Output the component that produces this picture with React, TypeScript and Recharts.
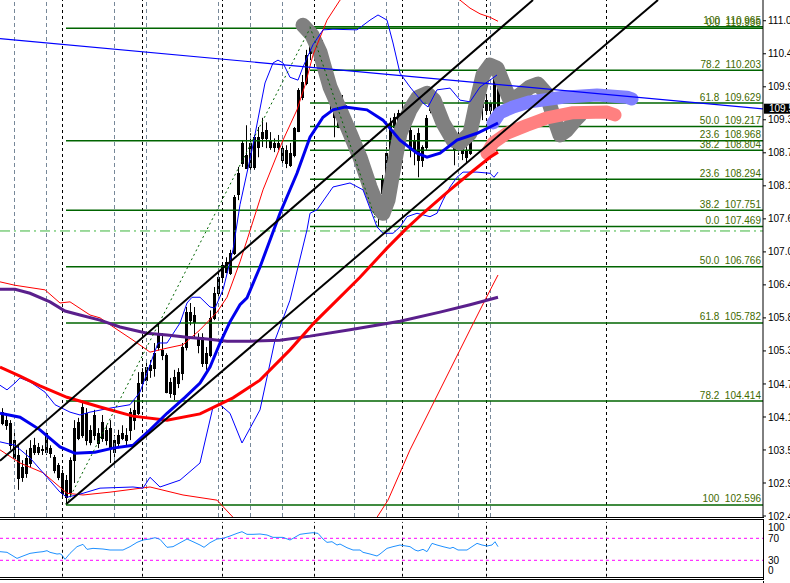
import React from 'react';
import { ComposedChart, Line, Bar, XAxis, YAxis, ReferenceDot } from 'recharts';

const X_MAX = 190.75;
const Y_MIN = 102.385;
const Y_MAX = 111.432;
const FONT = '"Liberation Sans", Arial, sans-serif';

const PRICE_TICKS = [102.402, 102.98, 103.558, 104.135, 104.713, 105.291, 105.869, 106.447, 107.024, 107.602, 108.18, 108.758, 109.336, 109.913, 110.491, 111.069];
const PRICE_TICK_LABELS = ['102.4', '102.9', '103.5', '104.1', '104.7', '105.3', '105.8', '106.4', '107.0', '107.6', '108.1', '108.7', '109.3', '109.9', '110.4', '111.0'];
const LAST_PRICE = 109.53;
const LAST_PRICE_LABEL = '109.5';

// open, high, low, close
const CANDLE_OHLC = [
  [104.22, 104.29, 103.99, 104.03], [103.99, 104.17, 103.91, 104.08], [104.03, 104.08, 103.56, 103.64], [103.73, 103.91, 103.35, 103.42],
  [103.47, 103.64, 102.86, 103.07], [103.08, 103.38, 103.0, 103.26], [103.42, 103.56, 103.07, 103.15], [103.33, 103.73, 103.26, 103.59],
  [103.52, 103.77, 103.47, 103.64], [103.52, 103.68, 103.47, 103.61], [103.57, 103.64, 103.47, 103.56], [103.85, 103.89, 103.47, 103.52],
  [103.59, 103.64, 103.42, 103.5], [103.43, 103.47, 103.15, 103.21], [103.08, 103.33, 103.03, 103.29], [103.15, 103.21, 102.73, 102.8],
  [103.03, 103.12, 102.6, 102.73], [102.82, 103.43, 102.73, 103.38], [103.38, 104.08, 102.98, 103.94], [103.77, 104.12, 103.73, 104.05],
  [103.82, 104.43, 103.77, 104.31], [104.2, 104.29, 103.64, 103.73], [103.7, 103.99, 103.64, 103.91], [104.17, 104.26, 103.73, 103.82],
  [103.68, 103.94, 103.59, 103.85], [104.05, 104.17, 103.7, 103.77], [103.73, 103.99, 103.64, 103.91], [103.94, 104.08, 103.33, 103.61],
  [103.52, 103.82, 103.33, 103.73], [103.68, 103.91, 103.59, 103.82], [103.85, 103.99, 103.73, 103.77], [103.82, 103.94, 103.64, 103.73],
  [103.91, 104.29, 103.73, 104.22], [104.08, 104.43, 103.91, 104.26], [104.2, 104.92, 104.17, 104.73], [104.73, 104.99, 104.57, 104.92],
  [104.78, 105.1, 104.69, 105.01], [104.96, 105.13, 104.82, 105.04], [104.99, 105.43, 104.84, 105.25], [105.36, 105.78, 105.3, 105.6],
  [105.3, 105.6, 105.13, 105.22], [105.22, 105.25, 104.55, 104.57], [104.75, 104.82, 104.47, 104.55], [104.55, 104.96, 104.43, 104.84],
  [104.73, 104.99, 104.64, 104.92], [104.9, 105.43, 104.78, 105.36], [105.36, 106.06, 105.3, 105.97], [105.83, 106.13, 105.74, 105.97],
  [105.92, 106.06, 105.53, 105.8], [105.53, 105.6, 105.25, 105.39], [105.53, 105.6, 105.01, 105.08], [105.08, 105.36, 104.96, 105.25],
  [105.22, 106.0, 105.18, 105.86], [105.86, 106.41, 105.83, 106.3], [106.3, 106.67, 106.25, 106.58], [106.58, 106.84, 106.53, 106.79],
  [106.84, 106.93, 106.65, 106.67], [106.65, 107.06, 106.62, 107.0], [107.0, 108.02, 106.97, 107.98], [108.05, 108.51, 107.93, 108.41],
  [108.58, 108.98, 108.51, 108.93], [108.72, 109.24, 108.49, 108.49], [108.51, 109.1, 108.46, 108.93], [108.51, 109.07, 108.46, 109.03],
  [108.86, 109.21, 108.68, 109.03], [109.12, 109.37, 108.86, 109.01], [109.15, 109.29, 108.84, 109.01], [108.98, 109.12, 108.81, 108.86],
  [108.86, 109.01, 108.77, 108.93], [108.93, 109.07, 108.81, 108.86], [108.84, 108.98, 108.58, 108.63], [108.81, 108.89, 108.49, 108.58],
  [108.54, 108.93, 108.51, 108.75], [108.72, 109.21, 108.68, 109.19], [109.15, 109.89, 109.12, 109.86], [109.73, 110.12, 109.68, 110.0],
  [109.98, 110.56, 109.94, 110.47], [110.5, 110.96, 110.38, 110.73], [110.68, 110.91, 110.5, 110.59], [110.68, 110.82, 110.26, 110.38],
  [110.61, 110.73, 110.17, 110.21], [110.21, 110.38, 109.82, 109.94], [109.89, 110.03, 109.51, 109.73], [109.72, 109.8, 109.03, 109.38],
  [109.21, 109.73, 109.19, 109.68], [109.68, 109.77, 109.24, 109.38], [109.51, 109.59, 109.15, 109.21], [109.21, 109.3, 108.89, 108.95],
  [108.98, 109.07, 108.68, 108.75], [108.68, 108.89, 108.63, 108.81], [108.63, 108.81, 108.16, 108.41], [108.16, 108.37, 107.98, 108.05],
  [108.14, 108.28, 107.81, 107.88], [108.07, 108.19, 107.67, 107.81], [107.93, 108.02, 107.47, 107.76], [108.05, 108.37, 107.93, 108.28],
  [108.05, 108.86, 107.98, 108.75], [108.75, 109.37, 108.68, 109.28], [109.21, 109.45, 109.07, 109.38], [109.28, 109.51, 109.15, 109.45],
  [109.45, 109.63, 109.24, 109.33], [109.33, 109.42, 109.1, 109.15], [109.15, 109.33, 108.68, 108.81], [108.81, 109.07, 108.54, 108.98],
  [109.1, 109.19, 108.33, 108.63], [108.63, 108.89, 108.51, 108.86], [108.86, 109.42, 108.81, 109.37], [109.63, 109.8, 109.45, 109.51],
  [109.56, 109.68, 109.38, 109.45], [109.45, 109.54, 109.24, 109.33], [109.33, 109.42, 109.12, 109.21], [109.28, 109.37, 109.03, 109.1],
  [109.15, 109.24, 108.89, 108.98], [108.81, 109.07, 108.54, 109.03], [109.03, 109.15, 108.72, 108.86], [108.93, 109.01, 108.63, 108.75],
  [108.81, 108.89, 108.58, 108.68], [108.75, 109.24, 108.72, 109.21], [109.33, 109.98, 109.3, 109.91], [109.68, 110.03, 109.59, 109.91],
  [109.8, 109.94, 109.33, 109.56], [109.51, 109.77, 109.42, 109.68], [109.51, 109.68, 109.42, 109.63], [109.51, 110.35, 109.47, 110.33],
  [110.26, 110.35, 109.36, 109.51],
];

// [bar position, price]
const RED_MA = [[0, 105.01], [5, 104.85], [10, 104.68], [16.75, 104.48], [25, 104.31], [33.25, 104.15], [41.75, 104.08], [50, 104.19], [58.25, 104.47], [65, 104.78], [72.5, 105.31], [78.75, 105.8], [84.25, 106.18], [90, 106.58], [96.75, 107.09], [101.25, 107.41], [105.75, 107.7], [112.5, 108.11], [117.5, 108.4], [122.5, 108.68], [124.5, 108.77]];
const PURPLE_MA = [[0, 106.37], [3.75, 106.37], [7.5, 106.3], [12.5, 106.15], [16.25, 105.99], [20, 105.92], [25, 105.83], [30, 105.71], [36.75, 105.6], [41.75, 105.57], [46.75, 105.53], [51.75, 105.5], [56.75, 105.46], [62.5, 105.46], [70, 105.48], [77.5, 105.55], [87.5, 105.66], [100, 105.81], [110, 105.97], [117.5, 106.1], [124.5, 106.23]];
const BLUE_MA = [[0, 104.2], [5, 104.13], [10, 103.91], [15, 103.61], [18.75, 103.5], [23.75, 103.52], [28.25, 103.59], [33.25, 103.64], [37.5, 103.91], [41.75, 104.2], [46.25, 104.48], [50, 104.73], [52.5, 105.01], [55, 105.43], [57.5, 105.8], [60, 106.1], [61.75, 106.22], [65, 106.76], [70, 107.7], [74.25, 108.4], [77.5, 109.03], [80.75, 109.38], [83.25, 109.51], [86.25, 109.56], [91.75, 109.51], [95.75, 109.33], [100, 108.98], [104.25, 108.75], [106.75, 108.68], [110, 108.75], [114.25, 108.98], [119.25, 109.1], [122.5, 109.21], [124.5, 109.28]];
const BB_UPPER = [[0, 104.69], [1.75, 104.61], [3.75, 104.73], [5, 104.82], [7.5, 104.75], [11.25, 104.57], [13.75, 104.35], [17.5, 104.22], [20, 104.17], [22.5, 104.22], [27.5, 104.29], [32.5, 104.35], [35, 104.57], [37.5, 105.05], [39.5, 105.43], [41.75, 105.43], [45, 105.78], [46.75, 106.13], [48, 106.23], [50, 106.23], [52.5, 106.06], [53.75, 106.04], [55.75, 106.36], [58.25, 107.06], [60, 107.85], [63, 108.81], [66.25, 109.98], [68.25, 110.33], [69.5, 110.38], [70.75, 110.33], [72.5, 110.08], [74.5, 110.03], [75.75, 110.26], [78.25, 110.65], [80.75, 110.91], [83.25, 110.92], [89.25, 110.91], [92.5, 111.08], [94.5, 111.17], [96.75, 111.08], [98.25, 110.68], [100, 110.15], [102.5, 109.91], [105.75, 109.63], [107, 109.56], [109.25, 109.86], [112.5, 109.89], [115, 109.68], [117.5, 109.65], [120, 109.91], [122.5, 110.03], [124.25, 110.12]];
const BB_LOWER = [[0, 103.7], [3.75, 103.64], [7.5, 103.42], [11.25, 103.12], [15, 102.82], [16.75, 102.73], [20.75, 102.8], [25, 102.89], [33.25, 102.91], [35.75, 102.89], [37.5, 103.08], [40, 102.91], [45, 103.03], [50, 103.33], [53.25, 104.31], [55, 104.35], [57.5, 104.2], [60.5, 103.68], [65, 104.26], [68.75, 105.48], [72.5, 106.18], [76.75, 107.41], [77.5, 107.7], [79.25, 107.76], [83.25, 108.16], [87.5, 108.23], [90.75, 108.11], [94.25, 107.46], [95.75, 107.35], [98.25, 107.35], [100, 107.46], [101.75, 107.64], [104.25, 107.7], [107.5, 107.64], [109.25, 107.7], [110.75, 107.93], [112.5, 108.16], [114.25, 108.33], [115.75, 108.42], [119.25, 108.42], [122.5, 108.4], [123.5, 108.33], [124.5, 108.42]];
const ENV_UPPER = [[0, 106.5], [3.75, 106.44], [11.25, 106.36], [15, 106.13], [17.5, 106.15], [22.5, 105.92], [25, 105.87], [28.75, 105.69], [33.25, 105.48], [37.5, 105.27], [41.75, 105.34], [45.75, 105.4], [50, 105.66], [54.25, 105.97], [56.75, 106.23], [60, 106.85], [61.75, 107.23], [65.75, 108.11], [70.75, 108.98], [74.25, 109.51], [76.25, 109.94], [78.25, 110.47], [81.75, 111.08], [85, 111.43], [90, 111.75], [100, 111.87], [110, 111.64], [115, 111.43], [117.5, 111.29], [120, 111.19], [122.5, 111.13], [124.5, 111.06]];
const ENV_LOWER = [[0, 103.56], [5, 103.33], [10.75, 103.16], [16.75, 102.8], [20.75, 102.77], [27.5, 102.82], [37.5, 102.91], [45.75, 102.77], [54.25, 102.68], [58.25, 102.38], [65, 101.98], [75, 101.72], [85, 101.84], [94.25, 102.38], [97, 102.68], [102.5, 103.56], [107.5, 104.26], [112.5, 104.96], [117.5, 105.66], [121.25, 106.18], [124.5, 106.62]];

const TREND_BLUE = [[0, 110.755], [190.75, 109.526]];
const CHANNEL_UPPER = [[0, 103.37], [133.25, 111.432]];
const CHANNEL_LOWER = [[16.5, 102.61], [164.5, 111.432]];
const FIB_A_TREND = [[16.5, 102.596], [77.5, 110.936]];
const FIB_B_TREND = [[77.5, 110.965], [94.5, 107.469]];
const DASHDOT_LEVEL = 107.39;

const GREY_PATH = [[75.75, 110.99], [78, 110.82], [80, 110.52], [82.5, 109.91], [85, 109.51], [87.5, 109.1], [90, 108.68], [92.5, 108.16], [94.5, 107.81], [95.75, 107.7], [97, 107.93], [98, 108.33], [100, 109.1], [102.5, 109.51], [104.5, 109.73], [106.75, 109.8], [108.5, 109.68], [110.75, 109.28], [113.25, 108.98], [115, 108.93], [117.5, 109.1], [119.25, 109.68], [120.75, 110.12], [122.5, 110.29], [124.25, 110.24], [125.75, 109.98], [127.5, 109.68], [130, 109.77], [132.5, 109.91], [134.5, 109.96], [136.5, 109.8], [138.25, 109.42], [140, 109.07], [141.75, 109.16], [143.75, 109.33], [145, 109.42]];
const BLUE_HL = [[123.25, 109.28], [125, 109.46], [128.25, 109.56], [132.5, 109.65], [140.75, 109.73], [149.25, 109.77], [156.75, 109.73], [158, 109.7]];
const PINK_HL = [[121.75, 108.75], [123.25, 108.93], [126.75, 109.1], [131.75, 109.24], [136.75, 109.37], [143.25, 109.46], [151.75, 109.47], [153.75, 109.42]];

const FIB_A_START = 16.5;
const FIB_B_START = 77.5;
const FIB_A_LEVELS: [string, number][] = [['100', 102.596], ['78.2', 104.414], ['61.8', 105.782], ['50.0', 106.766], ['38.2', 107.751], ['23.6', 108.968], ['0.0', 110.936]];
const FIB_B_LEVELS: [string, number][] = [['0.0', 107.469], ['23.6', 108.294], ['38.2', 108.804], ['50.0', 109.217], ['61.8', 109.629], ['78.2', 110.203], ['100', 110.965]];

// bar index of grid / period separators
const GRID_BARS = [3, 11, 28, 36, 54, 62, 70, 88, 96, 114, 122];
const SEPARATOR_BARS = [15, 35, 55, 78, 100, 121, 151];

const RSI = [[0, 45.7], [1.75, 44.5], [4.25, 33.5], [5.75, 37.8], [7.5, 42.6], [9.25, 44.5], [10.75, 45.7], [11.75, 47.5], [12.5, 44.5], [14.25, 41.4], [15, 42.0], [15.5, 39.6], [16.25, 31.7], [17.5, 42.6], [19.25, 54.8], [20.75, 59.0], [21.75, 49.9], [23.25, 51.7], [25.75, 50.5], [27.5, 48.7], [29.25, 48.7], [30.75, 48.7], [32.5, 54.8], [34.25, 62.6], [35.75, 66.9], [37.5, 68.7], [38.75, 71.1], [40, 68.1], [41.75, 53.6], [43.25, 54.8], [45.5, 63.8], [46.75, 68.7], [48.25, 63.8], [50, 57.8], [51, 53.6], [52.5, 62.0], [54.25, 68.7], [55.75, 69.9], [57.5, 74.1], [59.25, 79.0], [60.5, 82.0], [61.75, 77.2], [63.25, 77.2], [65, 77.8], [66.75, 76.0], [68.25, 71.7], [70.75, 71.7], [72.5, 66.9], [73.25, 69.9], [75, 77.2], [76.75, 79.0], [78.25, 80.2], [79.5, 79.0], [80.75, 68.7], [81.75, 62.6], [83, 63.8], [84.25, 57.8], [85, 59.6], [86.75, 52.9], [88.25, 48.7], [90, 48.7], [90.75, 44.5], [92.5, 41.4], [94.25, 37.8], [95, 41.4], [96.75, 51.7], [98.25, 54.8], [100, 57.8], [102.5, 54.8], [103.75, 48.7], [104.5, 46.9], [105.75, 49.9], [106.75, 45.7], [108, 60.8], [109.25, 57.8], [110.75, 54.8], [112.5, 51.7], [113.25, 53.6], [114.5, 48.7], [116.75, 48.7], [118, 54.8], [119.25, 60.8], [120.5, 57.8], [121.75, 56.0], [123, 57.8], [123.75, 63.8], [124.5, 54.8]];
const RSI_LEVELS = [70, 30];
const RSI_TICKS = [0, 30, 70, 100];

const toPts = (a: number[][]) => a.map(([x, y]) => ({ x, y }));
const candleData = CANDLE_OHLC.map(([o, h, l, c], i) => ({ x: i + 0.5, o, h, l, c, range: [l, h] }));
const barX = (i: number) => i + 0.5 + 0.125;

const Candle = (props: any) => {
  const { x, y, width, height, payload } = props;
  if (!payload || x == null) return null;
  const top = Math.min(y, y + height);
  const hgt = Math.abs(height);
  const k = payload.h > payload.l ? hgt / (payload.h - payload.l) : 0;
  const cx = Math.round(x + width / 2) + 0.5;
  const yo = top + (payload.h - payload.o) * k;
  const yc = top + (payload.h - payload.c) * k;
  const bTop = Math.round(Math.min(yo, yc)) + 0.5;
  const bH = Math.max(Math.round(Math.abs(yc - yo)), 1);
  const bull = payload.c >= payload.o;
  return (
    <g>
      <line x1={cx} x2={cx} y1={top} y2={top + hgt} stroke="#000" strokeWidth={1} />
      <rect x={cx - 1} y={bTop} width={2} height={bH} fill={bull ? 'none' : '#000'} stroke="#000" strokeWidth={1} />
    </g>
  );
};

function mkLine(key: string, data: any[], stroke: string, width: number, extra: any = {}) {
  return (
    <Line key={key} data={data} dataKey="y" type="linear" stroke={stroke} strokeWidth={width}
      dot={false} activeDot={false} isAnimationActive={false} legendType="none" {...extra} />
  );
}

const vLine = (u: number, lo: number, hi: number) => [{ x: u, y: lo }, { x: u, y: hi }];

const fibLabel = (lvl: string, price: number) => (p: any) => (
  <text x={p.cx - 2} y={p.cy - 2.5} textAnchor="end" fontSize={10} fontFamily={FONT} fill="#3f6a00">
    {`${lvl}\u00a0\u00a0${price.toFixed(3)}`}
  </text>
);

const RsiTick = (p: any) => {
  const v = p.payload.value;
  const dy = v === 100 ? 6 : v === 0 ? -6 : 0;
  return (
    <text x={p.x} y={p.y + dy} dy="0.35em" fontSize={10} fontFamily={FONT} fill="#000" textAnchor="start">{v}</text>
  );
};

const hLine = (left: number, top: number, width: number, height: number) => (
  <div style={{ position: 'absolute', left, top, width, height, background: '#000' }} />
);

export default function App() {
  return (
    <div style={{ position: 'absolute', left: 0, top: 0, width: 790, height: 583, background: '#fff', overflow: 'hidden' }}>
      <div style={{ position: 'absolute', left: 0, top: 0 }}>
        <ComposedChart width={790} height={530} data={candleData} margin={{ top: 0, right: 0, bottom: 13, left: 0 }}>
          <XAxis dataKey="x" type="number" domain={[0, X_MAX]} hide allowDataOverflow />
          <YAxis orientation="right" domain={[Y_MIN, Y_MAX]} allowDataOverflow ticks={PRICE_TICKS} interval={0}
            width={27} tickSize={3}
            tickFormatter={(v: number) => PRICE_TICK_LABELS[PRICE_TICKS.indexOf(v)] ?? ''}
            tick={{ fontSize: 10, fill: '#000', fontFamily: FONT }} axisLine={{ stroke: '#000' }} tickLine={{ stroke: '#000' }} />
          {GRID_BARS.map((b) => mkLine(`g${b}`, vLine(barX(b), Y_MIN, Y_MAX), '#778899', 1, { strokeDasharray: '4 3' }))}
          {SEPARATOR_BARS.map((b) => mkLine(`s${b}`, vLine(barX(b), Y_MIN, Y_MAX), '#000', 1, { strokeDasharray: '3 3' }))}
          {mkLine('dashdot', [{ x: 0, y: DASHDOT_LEVEL }, { x: X_MAX, y: DASHDOT_LEVEL }], '#3cb43c', 1, { strokeDasharray: '10 4 2 4' })}
          {FIB_A_LEVELS.map(([l, v]) => mkLine(`fa${l}`, [{ x: FIB_A_START, y: v }, { x: X_MAX, y: v }], '#006400', 1.5))}
          {FIB_B_LEVELS.map(([l, v]) => mkLine(`fb${l}`, [{ x: FIB_B_START, y: v }, { x: X_MAX, y: v }], '#006400', 1.5))}
          {mkLine('grey', toPts(GREY_PATH), '#808080', 15, { strokeLinecap: 'round', strokeLinejoin: 'round' })}
          {mkLine('bluehl', toPts(BLUE_HL), '#8080ff', 13, { strokeLinecap: 'round', strokeLinejoin: 'round' })}
          {mkLine('pinkhl', toPts(PINK_HL), '#ff8080', 13, { strokeLinecap: 'round', strokeLinejoin: 'round' })}
          {mkLine('envU', toPts(ENV_UPPER), '#ff0000', 1)}
          {mkLine('envL', toPts(ENV_LOWER), '#ff0000', 1)}
          {mkLine('bbU', toPts(BB_UPPER), '#0000ff', 1)}
          {mkLine('bbL', toPts(BB_LOWER), '#0000ff', 1)}
          {mkLine('purple', toPts(PURPLE_MA), '#5a1f8c', 3)}
          {mkLine('redma', toPts(RED_MA), '#ff0000', 3)}
          <Bar dataKey="range" barSize={3} shape={<Candle />} isAnimationActive={false} legendType="none" />
          {mkLine('bluema', toPts(BLUE_MA), '#0000ee', 3)}
          {mkLine('trend', toPts(TREND_BLUE), '#0000ff', 1.2)}
          {mkLine('chU', toPts(CHANNEL_UPPER), '#000', 2)}
          {mkLine('chL', toPts(CHANNEL_LOWER), '#000', 2)}
          {mkLine('fibAT', toPts(FIB_A_TREND), '#006400', 1, { strokeDasharray: '2 3' })}
          {mkLine('fibBT', toPts(FIB_B_TREND), '#006400', 1, { strokeDasharray: '2 3' })}
          {FIB_A_LEVELS.map(([l, v]) => (
            <ReferenceDot key={`la${l}`} x={X_MAX} y={v} r={0} ifOverflow="visible" shape={fibLabel(l, v)} />
          ))}
          {FIB_B_LEVELS.map(([l, v]) => (
            <ReferenceDot key={`lb${l}`} x={X_MAX} y={v} r={0} ifOverflow="visible" shape={fibLabel(l, v)} />
          ))}
          <ReferenceDot x={X_MAX} y={LAST_PRICE} r={0} ifOverflow="visible" shape={(p: any) => (
            <g>
              <rect x={p.cx + 1} y={p.cy - 5} width={30} height={10} fill="#000" />
              <text x={p.cx + 6} y={p.cy} dy="0.35em" fontSize={10} fontFamily={FONT} fill="#fff">{LAST_PRICE_LABEL}</text>
            </g>
          )} />
        </ComposedChart>
      </div>
      <div style={{ position: 'absolute', left: 0, top: 519 }}>
        <ComposedChart width={790} height={61} margin={{ top: 2.8, right: 0, bottom: 3.2, left: 0 }}>
          <XAxis dataKey="x" type="number" domain={[0, X_MAX]} hide allowDataOverflow />
          <YAxis orientation="right" domain={[0, 100]} allowDataOverflow ticks={RSI_TICKS} interval={0} width={27}
            tickSize={3} axisLine={false} tickLine={false} tick={<RsiTick />} />
          {SEPARATOR_BARS.map((b) => mkLine(`rs${b}`, vLine(barX(b), 0, 100), '#000', 1, { strokeDasharray: '3 3' }))}
          {RSI_LEVELS.map((lv) => mkLine(`rl${lv}`, [{ x: 0, y: lv }, { x: X_MAX, y: lv }], '#ff00ff', 1, { strokeDasharray: '3 3' }))}
          {mkLine('rsi', toPts(RSI), '#1e90ff', 1)}
        </ComposedChart>
      </div>
      {hLine(0, 517, 764, 1)}
      {hLine(0, 519, 764, 1)}
      {hLine(0, 577, 764, 1)}
      {hLine(0, 579, 764, 1)}
      {hLine(763, 519, 1, 60)}
      {hLine(763, 581, 1, 2)}
    </div>
  );
}
